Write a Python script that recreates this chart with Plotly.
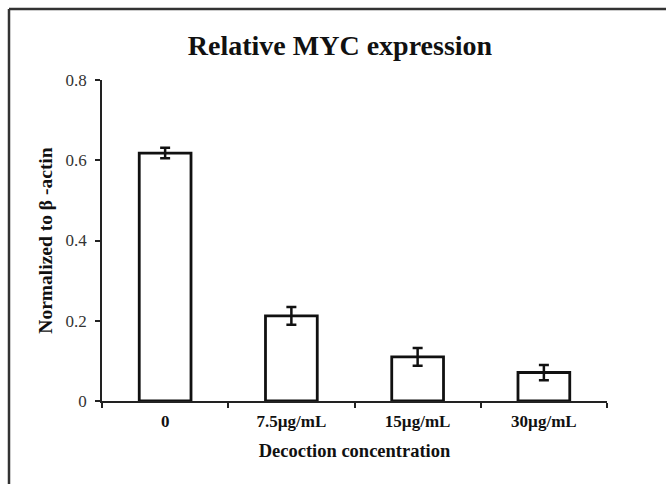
import plotly.graph_objects as go

categories = ["0", "7.5µg/mL", "15µg/mL", "30µg/mL"]
values = [0.618, 0.212, 0.110, 0.071]
errors = [0.013, 0.022, 0.022, 0.019]
y_ticks = [0, 0.2, 0.4, 0.6, 0.8]
y_tick_labels = ["0", "0.2", "0.4", "0.6", "0.8"]

W, H = 666, 484
ml, mr, mt, mb = 102, 59, 80, 83
pw, ph = W - ml - mr, H - mt - mb

def px_x(p):
    return (p - ml) / pw

def px_y(p):
    return (H - mb - p) / ph

fig = go.Figure()
fig.add_trace(go.Bar(
    x=categories, y=values,
    marker=dict(color="white", line=dict(color="#111111", width=2.8)),
    error_y=dict(type="data", array=errors, visible=True, color="#111111", thickness=2.5, width=5),
    width=0.41,
))

font_family = "Liberation Serif, Times New Roman, serif"
fig.update_layout(
    width=W, height=H,
    margin=dict(l=ml, r=mr, t=mt, b=mb),
    paper_bgcolor="white", plot_bgcolor="white",
    showlegend=False,
    title=dict(text="<b>Relative MYC expression</b>", x=340 / W, xanchor="center",
               y=1 - 45 / H, yanchor="middle",
               font=dict(family=font_family, size=28, color="#111111")),
    xaxis=dict(
        type="category", range=[-0.5, 3.5],
        showline=True, linecolor="#222222", linewidth=1.5,
        ticks="outside", ticklen=5, tickwidth=1.5, tickcolor="#222222",
        tickson="boundaries", ticklabelstandoff=4,
        tickfont=dict(family=font_family, size=17, color="#111111"),
        tickvals=categories, ticktext=["<b>%s</b>" % c for c in categories],
        title=dict(text="<b>Decoction concentration</b>", standoff=14,
                   font=dict(family=font_family, size=18.5, color="#111111")),
        showgrid=False, zeroline=False,
    ),
    yaxis=dict(
        range=[0, 0.8],
        showline=True, linecolor="#222222", linewidth=1.5,
        ticks="outside", ticklen=5, tickwidth=1.5, tickcolor="#222222",
        ticklabelstandoff=5,
        tickvals=y_ticks, ticktext=y_tick_labels,
        tickfont=dict(family=font_family, size=17, color="#333333"),
        title=dict(text="<b>Normalized to β -actin</b>", standoff=8,
                   font=dict(family=font_family, size=19.5, color="#111111")),
        showgrid=False, zeroline=False,
    ),
)

# outer frame (extends beyond the visible window on right and bottom)
fig.add_shape(type="line", xref="paper", yref="paper",
              x0=px_x(9), x1=px_x(9), y0=px_y(9), y1=px_y(500),
              line=dict(color="#333333", width=2.5))
fig.add_shape(type="line", xref="paper", yref="paper",
              x0=px_x(9), x1=px_x(700), y0=px_y(9), y1=px_y(9),
              line=dict(color="#333333", width=2.5))

fig.write_html("out.html")
